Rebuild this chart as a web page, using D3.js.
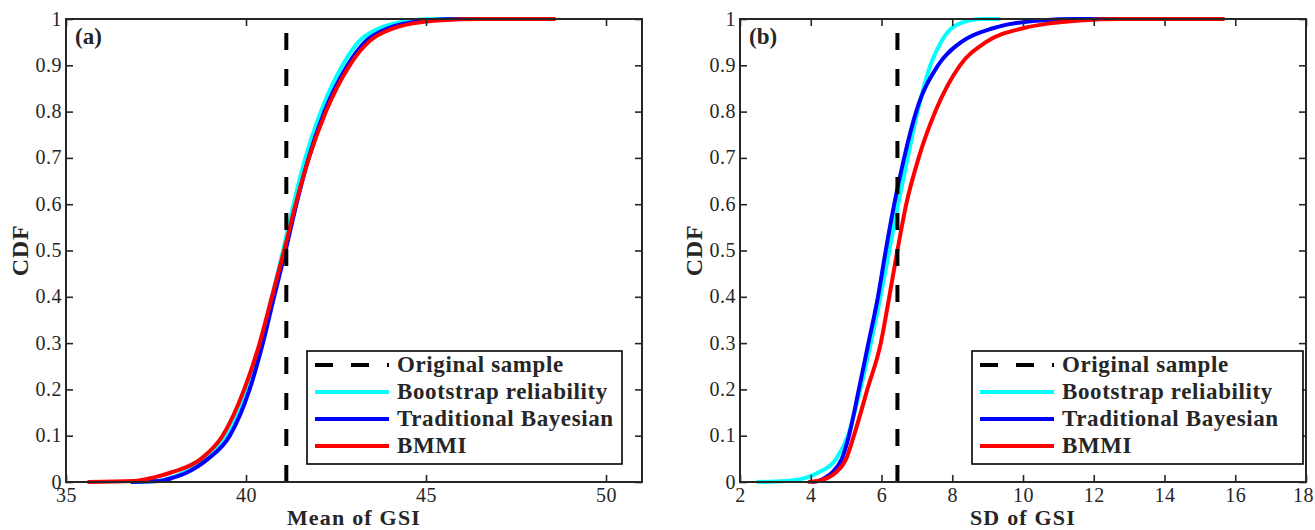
<!DOCTYPE html>
<html>
<head>
<meta charset="utf-8">
<script src="https://cdn.jsdelivr.net/npm/d3@7"></script>
<style>
  body { margin: 0; background: #fff; }
  svg text { font-family: "Liberation Serif", "Times New Roman", serif; fill: #262626; }
</style>
</head>
<body>
<div id="chart"></div>
<script>
// CDF levels shared by every curve
const cdfLevels = [0, 0.002, 0.01, 0.02, 0.05, 0.1, 0.2, 0.3, 0.4, 0.5, 0.6, 0.7, 0.8, 0.9, 0.95, 0.98, 0.99, 0.997, 1, 1];

// Panel (a): Mean of GSI
const meanBootstrap = [36.8, 37.5, 37.95, 38.25, 38.85, 39.45, 40.02, 40.4, 40.72, 41.03, 41.32, 41.65, 42.08, 42.68, 43.12, 43.7, 44.1, 44.6, 45.3, 45.8];
const meanBayesian  = [36.8, 37.6, 38.0, 38.35, 38.95, 39.55, 40.1, 40.47, 40.78, 41.1, 41.4, 41.74, 42.18, 42.82, 43.3, 43.95, 44.4, 45.0, 46.0, 47.0];
const meanBMMI      = [35.6, 36.9, 37.45, 37.9, 38.75, 39.35, 39.95, 40.38, 40.72, 41.06, 41.38, 41.75, 42.22, 42.88, 43.4, 44.1, 44.6, 45.3, 46.6, 48.6];
const meanOriginal = 41.12;

// Panel (b): SD of GSI
const sdBootstrap = [2.47, 3.3, 3.9, 4.2, 4.72, 5.05, 5.4, 5.7, 5.97, 6.22, 6.47, 6.74, 7.02, 7.38, 7.68, 7.98, 8.2, 8.5, 8.9, 9.35];
const sdBayesian  = [4.03, 4.2, 4.42, 4.6, 4.88, 5.08, 5.36, 5.63, 5.9, 6.12, 6.36, 6.64, 6.98, 7.6, 8.25, 9.15, 9.7, 10.5, 11.5, 13.0];
const sdBMMI      = [3.93, 4.2, 4.5, 4.7, 5.0, 5.22, 5.6, 5.98, 6.22, 6.45, 6.7, 7.05, 7.52, 8.22, 8.95, 10.0, 10.7, 11.6, 12.8, 15.7];
const sdOriginal = 6.45;

const originalTop = 0.97;

const yTicks = [0, 0.1, 0.2, 0.3, 0.4, 0.5, 0.6, 0.7, 0.8, 0.9, 1];
const meanTicks = [35, 40, 45, 50];
const sdTicks = [2, 4, 6, 8, 10, 12, 14, 16, 18];

const legendNames = ['Original sample', 'Bootstrap reliability', 'Traditional Bayesian', 'BMMI'];
const seriesColors = ['#00ffff', '#0000ff', '#ff0000'];

const svgWidth = 1315;
const svgHeight = 530;

var svg = d3.select('#chart')
    .append('svg')
    .attr('width', svgWidth)
    .attr('height', svgHeight);

const panels = [
    { left: 66, right: 642, domain: [35, 51], ticks: meanTicks, series: [meanBootstrap, meanBayesian, meanBMMI],
      original: meanOriginal, tag: '(a)', xLabel: 'Mean of GSI', legendX: 307, legendW: 315 },
    { left: 740, right: 1306, domain: [2, 18], ticks: sdTicks, series: [sdBootstrap, sdBayesian, sdBMMI],
      original: sdOriginal, tag: '(b)', xLabel: 'SD of GSI', legendX: 972, legendW: 331 }
];

const plotTop = 19;
const plotBottom = 482;

const yScale = d3.scaleLinear()
    .domain([0, 1])
    .range([plotBottom, plotTop]);

panels.forEach(p => {
    var xScale = d3.scaleLinear()
        .domain(p.domain)
        .range([p.left, p.right]);

    var g = svg.append('g');

    // curves
    var line = d3.line()
        .x(d => xScale(d[0]))
        .y(d => yScale(d[1]))
        .curve(d3.curveMonotoneX);

    p.series.forEach((xs, i) => {
        g.append('path')
            .datum(xs.map((x, k) => [x, cdfLevels[k]]))
            .attr('d', line)
            .attr('fill', 'none')
            .attr('stroke', seriesColors[i])
            .attr('stroke-width', 4)
            .attr('stroke-linejoin', 'round');
    });

    // original sample, dashes laid from the top down
    g.append('line')
        .attr('x1', xScale(p.original))
        .attr('x2', xScale(p.original))
        .attr('y1', yScale(originalTop))
        .attr('y2', yScale(0))
        .attr('stroke', '#000')
        .attr('stroke-width', 4)
        .attr('stroke-dasharray', '17,19');

    // axes (MATLAB style: ticks inside, mirrored box)
    var xAxis = d3.axisBottom(xScale)
        .tickValues(p.ticks)
        .tickSizeInner(-7)
        .tickSizeOuter(0)
        .tickPadding(6);
    var gx = g.append('g')
        .attr('transform', 'translate(0,' + plotBottom + ')')
        .call(xAxis);

    var xTop = d3.axisTop(xScale)
        .tickValues(p.ticks)
        .tickSizeInner(-7)
        .tickSizeOuter(0)
        .tickFormat('');
    var gxt = g.append('g')
        .attr('transform', 'translate(0,' + plotTop + ')')
        .call(xTop);

    var yAxis = d3.axisLeft(yScale)
        .tickValues(yTicks)
        .tickSizeInner(-7)
        .tickSizeOuter(0)
        .tickPadding(4)
        .tickFormat(d => d === 0 ? '0' : d === 1 ? '1' : d3.format('.1f')(d));
    var gy = g.append('g')
        .attr('transform', 'translate(' + p.left + ',0)')
        .call(yAxis);

    var yRight = d3.axisRight(yScale)
        .tickValues(yTicks)
        .tickSizeInner(-7)
        .tickSizeOuter(0)
        .tickFormat('');
    var gyr = g.append('g')
        .attr('transform', 'translate(' + p.right + ',0)')
        .call(yRight);

    [gx, gxt, gy, gyr].forEach(a => {
        a.select('.domain').remove();
        a.selectAll('line').attr('stroke', '#262626').attr('stroke-width', 1.6);
        a.selectAll('text')
            .style('font-family', '"Liberation Serif", serif')
            .style('font-size', '20px')
            .style('letter-spacing', '0.5px')
            .attr('fill', '#262626');
    });
    gy.selectAll('text').attr('dy', '0.3em');
    // keep the last label of the right panel inside the window
    gx.selectAll('.tick:last-of-type text').filter(() => p.right > 1300).attr('dx', '-3px');

    g.append('rect')
        .attr('x', p.left)
        .attr('y', plotTop)
        .attr('width', p.right - p.left)
        .attr('height', plotBottom - plotTop)
        .attr('fill', 'none')
        .attr('stroke', '#262626')
        .attr('stroke-width', 2);

    // panel tag
    g.append('text')
        .attr('x', p.left + 9)
        .attr('y', 44)
        .style('font-size', '23px')
        .style('font-weight', 'bold')
        .attr('fill', '#000')
        .text(p.tag);

    // axis titles
    g.append('text')
        .attr('x', (p.left + p.right) / 2)
        .attr('y', 525)
        .attr('text-anchor', 'middle')
        .style('font-size', '22px')
        .style('font-weight', 'bold')
        .style('letter-spacing', '1.2px')
        .text(p.xLabel);

    g.append('text')
        .attr('transform', 'rotate(-90)')
        .attr('x', -(plotTop + plotBottom) / 2)
        .attr('y', p.left - 38)
        .attr('text-anchor', 'middle')
        .style('font-size', '24px')
        .style('font-weight', 'bold')
        .style('letter-spacing', '0.8px')
        .text('CDF');

    // legend
    var leg = g.append('g')
        .attr('transform', 'translate(' + p.legendX + ',351)');

    leg.append('rect')
        .attr('width', p.legendW)
        .attr('height', 113)
        .attr('fill', '#fff')
        .attr('stroke', '#000')
        .attr('stroke-width', 1.6);

    legendNames.forEach((name, i) => {
        var ry = 14 + i * 27;
        leg.append('line')
            .attr('x1', 8)
            .attr('x2', 82)
            .attr('y1', ry)
            .attr('y2', ry)
            .attr('stroke', i === 0 ? '#000' : seriesColors[i - 1])
            .attr('stroke-width', 4)
            .attr('stroke-dasharray', i === 0 ? '18,18' : null);
        leg.append('text')
            .attr('x', 90)
            .attr('y', ry + 7)
            .style('font-size', '23px')
            .style('font-weight', 'bold')
            .style('letter-spacing', '0.6px')
            .attr('fill', '#000')
            .text(name);
    });
});
</script>
</body>
</html>
